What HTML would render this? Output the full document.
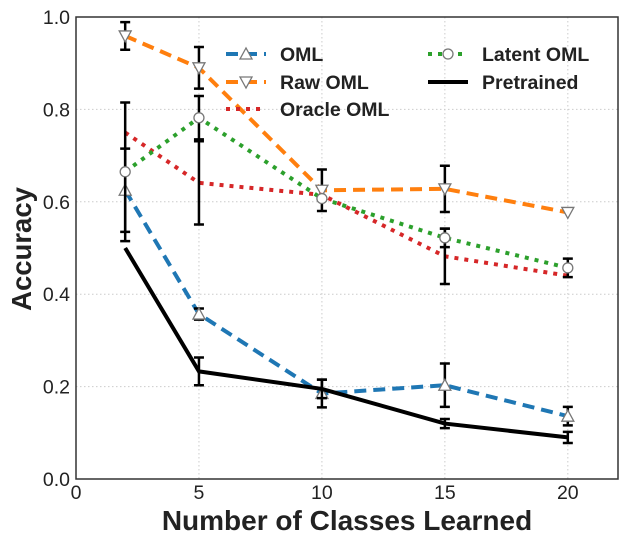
<!DOCTYPE html>
<html><head><meta charset="utf-8"><style>
body{margin:0;background:#fff;}
svg{display:block;font-family:"Liberation Sans",sans-serif;}
</style></head><body>
<svg id="chart" width="628" height="544" viewBox="0 0 628 544" xmlns="http://www.w3.org/2000/svg">
<g id="grid"></g>
<g id="series"></g>
<rect x="76" y="17" width="542" height="462" fill="none" stroke="#333" stroke-width="1.5"/>
<g id="ticks"></g>
<text x="347" y="530" text-anchor="middle" font-size="28" font-weight="bold" fill="#222">Number of Classes Learned</text>
<text transform="translate(31,249) rotate(-90)" text-anchor="middle" font-size="27.5" font-weight="bold" fill="#222">Accuracy</text>
<g id="legend"></g>
</svg>
<script>
const xs=[2,5,10,15,20];
const omlVals=[0.625,0.357,0.185,0.203,0.136];
const omlErr=[0.09,0.012,0.03,0.047,0.02];
const rawVals=[0.959,0.89,0.625,0.628,0.577];
const rawErr=[0.03,0.045,0.045,0.05,0];
const oracleVals=[0.75,0.641,0.615,0.482,0.44];
const oracleErr=[0,0.09,0,0.06,0];
const latentVals=[0.665,0.782,0.607,0.522,0.457];
const latentErr=[0.15,0.047,0,0.02,0.02];
const pretVals=[0.5,0.233,0.195,0.12,0.09];
const pretErr=[0,0.03,0.02,0.01,0.012];
const xTicks=[0,5,10,15,20];
const yTicks=[0,0.2,0.4,0.6,0.8,1.0];
const yTickLabels=["0.0","0.2","0.4","0.6","0.8","1.0"];

const X=v=>76+v*(541/22), Y=v=>479-v*462;
const NS="http://www.w3.org/2000/svg";
function mk(tag,attrs,parent){const e=document.createElementNS(NS,tag);for(const k in attrs)e.setAttribute(k,attrs[k]);parent.appendChild(e);return e;}
const grid=document.getElementById('grid'),ticks=document.getElementById('ticks'),ser=document.getElementById('series'),leg=document.getElementById('legend');
xTicks.forEach(t=>{
 const l=mk('line',{x1:X(t),x2:X(t),y1:17,y2:479,stroke:'#ccc','stroke-width':1,'stroke-dasharray':'1.5,2.5'},grid);
 
 
 const tx=mk('text',{x:X(t),y:499,'text-anchor':'middle','font-size':19.5,fill:'#222'},ticks);tx.textContent=t;
 
 
});
yTicks.forEach((t,i)=>{
 const l=mk('line',{x1:76,x2:618,y1:Y(t),y2:Y(t),stroke:'#ccc','stroke-width':1,'stroke-dasharray':'1.5,2.5'},grid);
 
 
 const tx=mk('text',{x:70,y:Y(t)+7,'text-anchor':'end','font-size':19.5,fill:'#222'},ticks);tx.textContent=yTickLabels[i];
 
 
});
const series=[
 {name:'oml',vals:omlVals,err:omlErr,color:'#1f77b4',dash:'12,7',marker:'up'},
 {name:'raw-oml',vals:rawVals,err:rawErr,color:'#ff7f0e',dash:'12,7',marker:'down'},
 {name:'oracle-oml',vals:oracleVals,err:oracleErr,color:'#d62728',dash:'4,6',marker:null},
 {name:'latent-oml',vals:latentVals,err:latentErr,color:'#2ca02c',dash:'4,6',marker:'circle'},
 {name:'pretrained',vals:pretVals,err:pretErr,color:'#000',dash:null,marker:null}
];
function marker(type,x,y,p){
 let m;
 if(type==='up')m=mk('polygon',{points:`${x},${y-6} ${x-6},${y+5} ${x+6},${y+5}`,fill:'#fff',stroke:'#777','stroke-width':1.3},p);
 else if(type==='down')m=mk('polygon',{points:`${x},${y+6} ${x-6},${y-5} ${x+6},${y-5}`,fill:'#fff',stroke:'#777','stroke-width':1.3},p);
 else m=mk('circle',{cx:x,cy:y,r:5,fill:'#fff',stroke:'#777','stroke-width':1.3},p);
 return m;
}
series.forEach(s=>{
 const g=mk('g',{},ser);
 
 
 const pts=xs.map((x,i)=>X(x)+','+Y(s.vals[i])).join(' ');
 const a={points:pts,fill:'none',stroke:s.color,'stroke-width':4};
 if(s.dash)a['stroke-dasharray']=s.dash;
 const pl=mk('polyline',a,g);
 
 
 xs.forEach((x,i)=>{
  const e=s.err[i];
  if(e>0){
   const cx=X(x),y1=Y(s.vals[i]-e),y2=Y(s.vals[i]+e);
   const eb=mk('path',{d:`M${cx},${y1}V${y2}M${cx-5},${y1}H${cx+5}M${cx-5},${y2}H${cx+5}`,stroke:'#000','stroke-width':2.5,fill:'none'},g);
   
   
  }
 });
 if(s.marker)xs.forEach((x,i)=>{
  const m=marker(s.marker,X(x),Y(s.vals[i]),g);
  
  
 });
});
const legItems=[
 {label:'OML',s:series[0],x:226,y:54},
 {label:'Raw OML',s:series[1],x:226,y:82},
 {label:'Oracle OML',s:series[2],x:226,y:109},
 {label:'Latent OML',s:series[3],x:428,y:54},
 {label:'Pretrained',s:series[4],x:428,y:82}
];
legItems.forEach(it=>{
 const g=mk('g',{},leg);
 
 
 const a={x1:it.x,x2:it.x+40,y1:it.y,y2:it.y,stroke:it.s.color,'stroke-width':4};
 if(it.s.dash)a['stroke-dasharray']=it.s.dash;
 mk('line',a,g);
 if(it.s.marker)marker(it.s.marker,it.x+20,it.y,g);
 const t=mk('text',{x:it.x+54,y:it.y+7,'font-size':19.5,'font-weight':'bold',fill:'#222'},g);
 t.textContent=it.label;
});
</script>
</body></html>
